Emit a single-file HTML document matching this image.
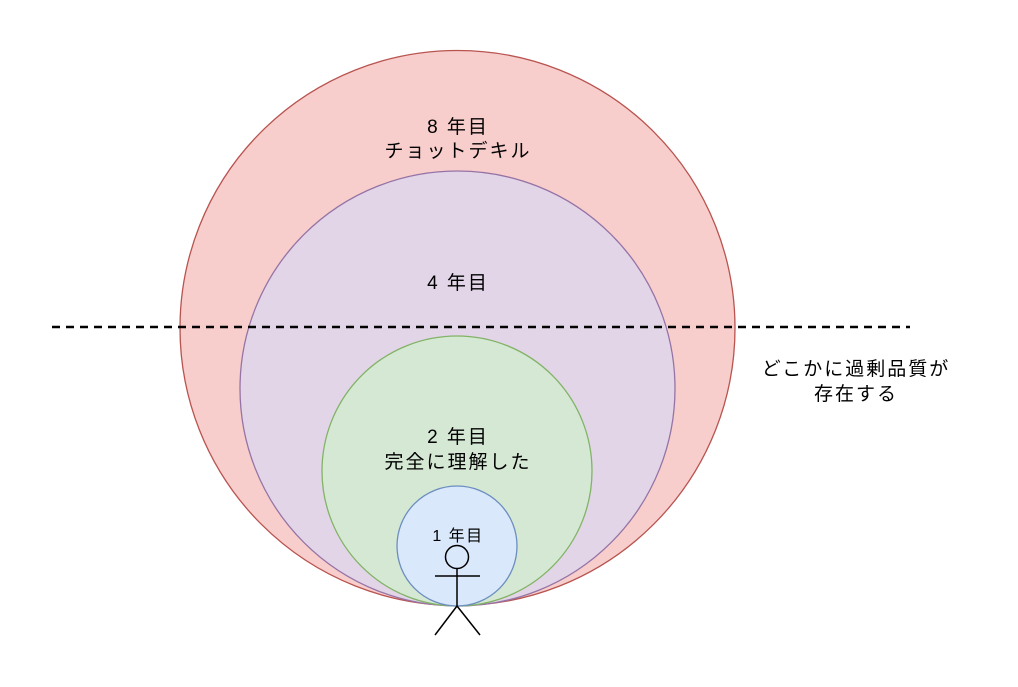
<!DOCTYPE html>
<html><head><meta charset="utf-8"><style>
html,body{margin:0;padding:0;background:#fff;width:1018px;height:687px;overflow:hidden}
svg text{font-family:"Liberation Sans","Noto Sans CJK JP",sans-serif;fill:#000;text-anchor:middle}
</style></head><body>
<svg width="1018" height="687" viewBox="0 0 1018 687">
<circle cx="457.5" cy="328" r="277.5" fill="#f8cecc" stroke="#b85450" stroke-width="1.3"/>
<circle cx="457.5" cy="388.5" r="217.5" fill="#e1d5e7" stroke="#9673a6" stroke-width="1.3"/>
<circle cx="457" cy="471" r="135" fill="#d5e8d4" stroke="#82b366" stroke-width="1.3"/>
<circle cx="457" cy="546" r="60" fill="#dae8fc" stroke="#6c8ebf" stroke-width="1.3"/>
<line x1="52" y1="327" x2="910" y2="327" stroke="#000" stroke-width="2.5" stroke-dasharray="8,6"/>
<g stroke="#000" stroke-width="1.5" fill="none">
<circle cx="457" cy="557" r="11.5"/>
<line x1="457" y1="568.5" x2="457" y2="606"/>
<line x1="435" y1="576" x2="480" y2="576"/>
<line x1="457" y1="606" x2="435" y2="635"/>
<line x1="457" y1="606" x2="480" y2="635"/>
</g>
<g font-size="19" letter-spacing="2">
<text x="458" y="133">8 年目</text>
<text x="458" y="157">チョットデキル</text>
<text x="458" y="289">4 年目</text>
<text x="458" y="443">2 年目</text>
<text x="458" y="468">完全に理解した</text>
<text x="856" y="375">どこかに過剰品質が</text>
<text x="856" y="400">存在する</text>
</g>
<text x="458" y="541" font-size="16" letter-spacing="1.5">1 年目</text>
</svg>
</body></html>
